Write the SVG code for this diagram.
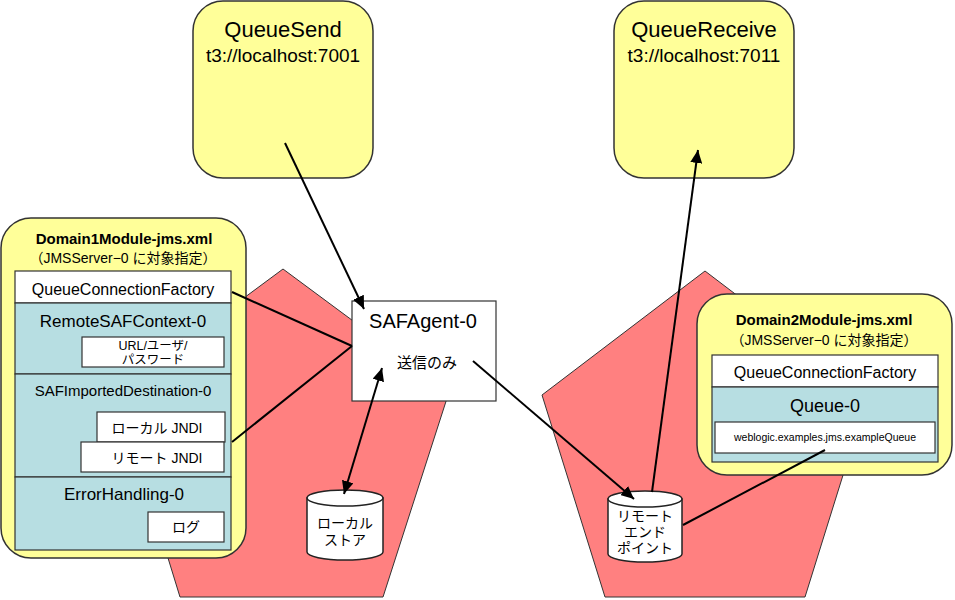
<svg xmlns="http://www.w3.org/2000/svg" width="955" height="600" viewBox="0 0 955 600">
<defs>
<style>
.t{font-family:"Liberation Sans","Noto Sans CJK JP",sans-serif;fill:#000;text-anchor:middle}
.b{font-weight:bold}
.pent{fill:#FF8080;stroke:#333;stroke-width:1}
.yel{fill:#FFFF99;stroke:#333;stroke-width:1.5}
.wh{fill:#fff;stroke:#333;stroke-width:1.2}
.bl{fill:#B7DEE2;stroke:#333;stroke-width:1.2}
.ln{stroke:#000;stroke-width:2;fill:none}
</style>
<marker id="arr" markerUnits="userSpaceOnUse" markerWidth="14" markerHeight="12" refX="13" refY="6" orient="auto-start-reverse">
<path d="M0,0 L13,6 L0,12 Z" fill="#000"/>
</marker>
</defs>
<rect width="955" height="600" fill="#fff"/>

<g id="pentagon-left"><polygon class="pent" points="283,269 449,392 383,597 180,597 117,392"/></g>
<g id="pentagon-right"><polygon class="pent" points="705,271 868,395 805,597 605,597 542,395"/></g>

<g id="queuesend">
<rect class="yel" x="193" y="1" width="180" height="177" rx="30"/>
<text class="t" x="283" y="37" font-size="22">QueueSend</text>
<text class="t" x="283" y="62" font-size="19">t3://localhost:7001</text>
</g>

<g id="queuereceive">
<rect class="yel" x="614" y="1" width="180" height="177" rx="30"/>
<text class="t" x="704" y="37" font-size="22">QueueReceive</text>
<text class="t" x="704" y="62" font-size="19">t3://localhost:7011</text>
</g>

<g id="domain1">
<rect class="yel" x="1" y="218" width="245" height="340" rx="30"/>
<text class="t b" x="124" y="244" font-size="15">Domain1Module-jms.xml</text>
<text class="t" x="123" y="263" font-size="14">（JMSServer−0 に対象指定）</text>
<rect class="wh" x="15" y="271" width="216" height="32"/>
<text class="t" x="123" y="295" font-size="16">QueueConnectionFactory</text>
<rect class="bl" x="15" y="303" width="216" height="71"/>
<text class="t" x="123" y="327" font-size="17">RemoteSAFContext-0</text>
<rect class="wh" x="82" y="337" width="142" height="30"/>
<text class="t" x="153" y="350" font-size="12.5">URL/ユーザ/</text>
<text class="t" x="153" y="364" font-size="12.5">パスワード</text>
<rect class="bl" x="15" y="374" width="216" height="103"/>
<text class="t" x="123" y="396" font-size="15">SAFImportedDestination-0</text>
<rect class="wh" x="97" y="412" width="128" height="30"/>
<text class="t" x="157" y="433" font-size="14">ローカル JNDI</text>
<rect class="wh" x="81" y="442" width="143" height="30"/>
<text class="t" x="157" y="463" font-size="14">リモート JNDI</text>
<rect class="bl" x="15" y="477" width="216" height="73"/>
<text class="t" x="124" y="500" font-size="17">ErrorHandling-0</text>
<rect class="wh" x="148" y="512" width="76" height="30"/>
<text class="t" x="186" y="532" font-size="14">ログ</text>
</g>

<g id="domain2">
<rect class="yel" x="697" y="294" width="255" height="181" rx="30"/>
<text class="t b" x="824" y="325" font-size="15">Domain2Module-jms.xml</text>
<text class="t" x="824" y="345" font-size="14">（JMSServer−0 に対象指定）</text>
<rect class="wh" x="712" y="355" width="226" height="32"/>
<text class="t" x="825" y="378" font-size="16">QueueConnectionFactory</text>
<rect class="bl" x="712" y="387" width="226" height="75"/>
<text class="t" x="825" y="412" font-size="18">Queue-0</text>
<rect class="wh" x="715" y="422" width="220" height="31"/>
<text class="t" x="825" y="441" font-size="10.5">weblogic.examples.jms.exampleQueue</text>
</g>

<g id="safagent">
<rect class="wh" x="352" y="301" width="144" height="100"/>
<text class="t" x="423" y="328" font-size="20">SAFAgent-0</text>
<text class="t" x="427" y="368" font-size="15">送信のみ</text>
</g>

<g id="localstore">
<path d="M307,498 L307,552 A38,8 0 0 0 383,552 L383,498 Z" fill="#fff" stroke="#222" stroke-width="1.5"/>
<ellipse cx="345" cy="498" rx="38" ry="8" fill="#fff" stroke="#222" stroke-width="1.5"/>
<text class="t" x="345" y="528" font-size="14">ローカル</text>
<text class="t" x="345" y="545" font-size="14">ストア</text>
</g>

<g id="remoteendpoint">
<path d="M608,499 L608,554 A37,8 0 0 0 682,554 L682,499 Z" fill="#fff" stroke="#222" stroke-width="1.5"/>
<ellipse cx="645" cy="499" rx="37" ry="8" fill="#fff" stroke="#222" stroke-width="1.5"/>
<text class="t" x="645" y="521" font-size="14">リモート</text>
<text class="t" x="645" y="537" font-size="14">エンド</text>
<text class="t" x="645" y="553" font-size="14">ポイント</text>
</g>

<g id="connectors">
<line class="ln" x1="285" y1="143" x2="364" y2="309" marker-end="url(#arr)"/>
<line class="ln" x1="232" y1="292" x2="352" y2="346"/>
<line class="ln" x1="232" y1="442" x2="352" y2="346"/>
<line class="ln" x1="382" y1="368" x2="344" y2="494" marker-start="url(#arr)" marker-end="url(#arr)"/>
<line class="ln" x1="473" y1="361" x2="634" y2="499" marker-end="url(#arr)"/>
<line class="ln" x1="652" y1="492" x2="698" y2="150" marker-end="url(#arr)"/>
<line class="ln" x1="683" y1="525" x2="825" y2="450"/>
</g>
</svg>
